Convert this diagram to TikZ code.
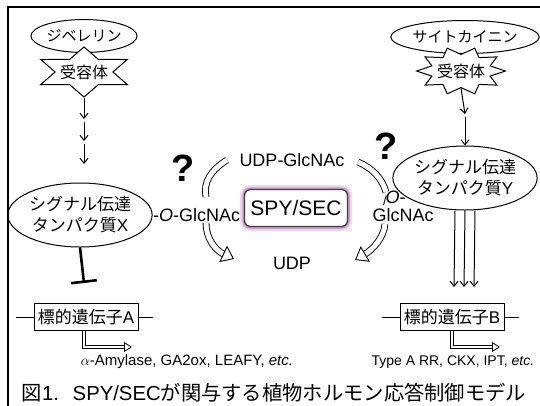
\documentclass[tikz,border=0pt]{standalone}
\usepackage{fontspec}
\setmainfont{Liberation Sans}
\newfontfamily\jpfont{Noto Sans CJK JP}
\usetikzlibrary{shapes.geometric,arrows.meta}

\begin{document}
\begin{tikzpicture}[x=1pt, y=-1pt, line width=1pt,
    hormone/.style={draw, ellipse, inner sep=0pt, minimum height=33pt, font=\jpfont\fontsize{15}{18}\selectfont},
    signal/.style={draw, ellipse, inner sep=0pt, align=center, minimum width=118pt, minimum height=64pt, font=\jpfont\fontsize{17}{21}\selectfont},
    receptor/.style={font=\jpfont\fontsize{16}{18}\selectfont},
    gene/.style={draw, inner sep=0pt, minimum width=104pt, minimum height=27pt, font=\jpfont\fontsize{17}{20}\selectfont},
    lbl/.style={font=\fontsize{18}{20}\selectfont},
    small/.style={font=\fontsize{15}{16}\selectfont},
    query/.style={font=\bfseries\fontsize{38}{38}\selectfont},
    enzyme/.style={draw=black!75, line width=1.3pt, rounded corners=6pt, fill=white,
        minimum width=103pt, minimum height=37pt, inner sep=0pt, font=\fontsize{21}{24}\selectfont,
        preaction={draw=violet!15, line width=9pt}, preaction={draw=violet!40, line width=4.5pt}},
    sig/.style={-{Straight Barb[length=5pt,width=8pt]}},
    band/.style={double, double distance=5pt, line width=0.9pt},
    bandarrow/.style={band, -{Triangle[open, fill=white, length=12pt, width=18pt]}},
    bent/.style={double, double distance=2.5pt, line width=0.8pt, -{Triangle[open, fill=white, length=8pt, width=10pt]}}
]

    % Fix the size of the picture
    \useasboundingbox (0,0) rectangle (540,405);

    % Draw the frame (cut at the right and at the bottom)
    \draw[line width=1.2pt] (8,7) rectangle (560,420);

    % Gibberellin side
    \node[hormone, minimum width=97pt] (ga) at (84,36) {ジベレリン};
    \begin{scope}[shift={(84,72)}, xscale=2]
        \node[star, star points=6, star point ratio=1.73, minimum size=50pt, inner sep=0pt, draw, fill=white, transform shape] (starL) at (0,0) {};
    \end{scope}
    \node[receptor] (recL) at (starL) {受容体};

    % Cytokinin side
    \node[hormone, minimum width=134pt] (ck) at (465,37) {サイトカイニン};
    \begin{scope}[shift={(461,71)}, xscale=1.85]
        \node[star, star points=10, star point ratio=1.45, shape border rotate=18, minimum size=48pt, inner sep=0pt, draw, fill=white, transform shape] (starR) at (0,0) {};
    \end{scope}
    \node[receptor] (recR) at (starR) {受容体};

    % Signalling proteins
    \node[signal] (sigX) at (80,215) {シグナル伝達\\タンパク質{\rmfamily X}};
    \node[signal, minimum width=120pt] (sigY) at (465,178) {シグナル伝達\\タンパク質{\rmfamily Y}};

    % Chain of arrows on the left
    \coordinate (l1) at (84,119);
    \coordinate (l2) at (84,141);
    \coordinate (l3) at (84,164);
    \draw[sig] (starL.south) -- (l1);
    \draw[sig] ([yshift=-3pt]l1) -- (l2);
    \draw[sig] ([yshift=-3pt]l2) -- (l3);

    % Chain of arrows on the right
    \coordinate (r1) at (465,114);
    \draw[sig] (starR.south) -- (r1);
    \draw[sig] ([yshift=-3pt]r1) -- (sigY.north);

    % Target genes
    \node[gene] (genA) at (86,317) {標的遺伝子{\rmfamily A}};
    \node[gene] (genB) at (452,317) {標的遺伝子{\rmfamily B}};
    \draw (genA.west) -- ++(-18,0);
    \draw (genA.east) -- ++(14,0);
    \draw (genB.west) -- ++(-18,0);
    \draw (genB.east) -- ++(14,0);

    % Repression of gene A
    \coordinate (barA) at (84,283);
    \draw[line width=2.6pt, -{Bar[width=26pt]}] (sigX.south) -- (barA);

    % Triple arrow to gene B
    \coordinate (tipB) at (464,287);
    \foreach \dx in {-10,0,10}
        \draw[sig] ([xshift=\dx pt]sigY.south) -- ([xshift=\dx pt]tipB);

    % Transcription and products
    \draw[bent] ([xshift=-2pt]genA.south) -- ++(0,16) -- ++(48,0);
    \draw[bent] ([xshift=0pt]genB.south) -- ++(0,16) -- ++(48,0);
    \node[small, anchor=west] (prodA) at (77,362) {$\alpha$-Amylase, GA2ox, LEAFY, \textit{etc.}};
    \node[small, font=\fontsize{14}{16}\selectfont, anchor=east] (prodB) at (538,362) {Type A RR, CKX, IPT, \textit{etc.}};

    % SPY/SEC cycle
    \node[lbl] (udpglc) at (292,160) {UDP-GlcNAc};
    \node[enzyme] (spy) at (296,208) {SPY/SEC};
    \node[lbl] (udp) at (292,263) {UDP};
    \node[lbl, anchor=west, inner sep=0pt] (oglcL) at (sigX.east) {-\textit{O}-GlcNAc};
    \node[lbl, anchor=east, inner sep=0pt] (oR) at (sigY.198) {\textit{O}-};
    \node[lbl] (glcR) at (403,215) {GlcNAc};
    \node[font=\fontsize{13}{13}\selectfont] (bond) at (385,201) {/};
    \node[query] (qL) at (183,168) {?};
    \node[query] (qR) at (386,146) {?};

    % Hollow curved arrows
    \coordinate (bL1) at (206,197);
    \coordinate (bL2) at (227,160);
    \coordinate (bL3) at (206,223);
    \coordinate (bL4) at (234,259);
    \coordinate (bR1) at (358,162);
    \coordinate (bR2) at (386,192);
    \coordinate (bR3) at (385,224);
    \coordinate (bR4) at (355,260);
    \draw[band] (bL1) .. controls (203,182) and (211,170) .. (bL2);
    \draw[bandarrow] (bL3) .. controls (206,238) and (215,250) .. (bL4);
    \draw[band] (bR1) .. controls (372,168) and (382,178) .. (bR2);
    \draw[bandarrow] (bR3) .. controls (384,238) and (372,250) .. (bR4);

    % Caption
    \node[font=\fontsize{20.3}{22}\selectfont] (title) at (274,393) {{\jpfont 図}1.\hspace{0.3em} SPY/SEC{\jpfont が関与する植物ホルモン応答制御モデル}};

\end{tikzpicture}
\end{document}
